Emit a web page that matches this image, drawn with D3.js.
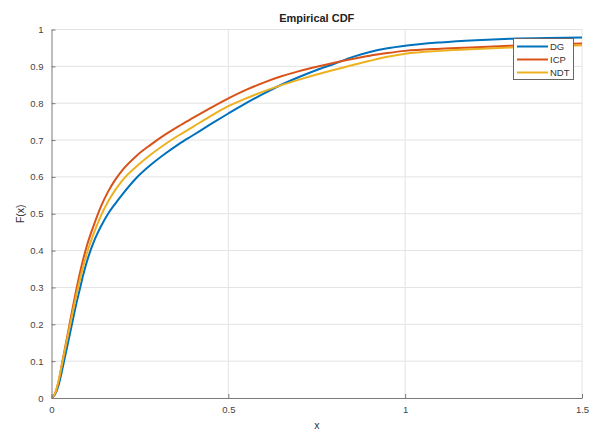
<!DOCTYPE html>
<html><head><meta charset="utf-8">
<script src="https://cdn.jsdelivr.net/npm/d3@7"></script>
<style>
body{margin:0;background:#fff;}
text{font-family:"Liberation Sans",Arial,Helvetica,sans-serif;}
</style></head>
<body><svg id="c" width="595" height="431"></svg>
<script>
const seriesNames = ["DG","ICP","NDT"];
const seriesColors = ["#0072BD","#D95319","#EDB120"];
const xTicks = [0,0.5,1,1.5];
const xTickLabels = ["0","0.5","1","1.5"];
const yTicks = [0,0.1,0.2,0.3,0.4,0.5,0.6,0.7,0.8,0.9,1];
const yTickLabels = ["0","0.1","0.2","0.3","0.4","0.5","0.6","0.7","0.8","0.9","1"];

const dgX = [0,0.01,0.02,0.03,0.04,0.05,0.06,0.07,0.08,0.09,0.1,0.12,0.14,0.16,0.18,0.2,0.24,0.28,0.32,0.36,0.4,0.45,0.5,0.55,0.6,0.65,0.7,0.75,0.8,0.85,0.9,0.95,1.0,1.1,1.2,1.3,1.4,1.5];
const dgF = [0,0.01,0.035,0.075,0.12,0.165,0.21,0.255,0.295,0.335,0.37,0.425,0.466,0.5,0.527,0.552,0.597,0.632,0.662,0.689,0.713,0.743,0.772,0.8,0.826,0.85,0.871,0.89,0.907,0.925,0.939,0.949,0.956,0.965,0.971,0.975,0.977,0.978];

const icpX = [0,0.01,0.02,0.03,0.04,0.05,0.06,0.07,0.08,0.09,0.1,0.12,0.14,0.16,0.18,0.2,0.24,0.28,0.32,0.36,0.4,0.45,0.5,0.55,0.6,0.65,0.7,0.75,0.8,0.85,0.9,0.95,1.0,1.1,1.2,1.3,1.4,1.5];
const icpF = [0,0.012,0.045,0.095,0.145,0.195,0.245,0.293,0.338,0.378,0.413,0.47,0.52,0.56,0.592,0.618,0.657,0.687,0.714,0.738,0.76,0.787,0.813,0.836,0.856,0.873,0.887,0.899,0.91,0.92,0.929,0.936,0.942,0.948,0.952,0.956,0.959,0.962];

const ndtX = [0,0.01,0.02,0.03,0.04,0.05,0.06,0.07,0.08,0.09,0.1,0.12,0.14,0.16,0.18,0.2,0.24,0.28,0.32,0.36,0.4,0.45,0.5,0.55,0.6,0.65,0.7,0.75,0.8,0.85,0.9,0.95,1.0,1.1,1.2,1.3,1.4,1.5];
const ndtF = [0,0.013,0.047,0.093,0.14,0.187,0.233,0.278,0.32,0.358,0.392,0.448,0.495,0.533,0.564,0.59,0.628,0.66,0.688,0.713,0.736,0.765,0.792,0.813,0.832,0.849,0.864,0.878,0.891,0.903,0.915,0.926,0.934,0.942,0.947,0.951,0.954,0.957];

const series = [
  {name:seriesNames[0], color:seriesColors[0], xs:dgX, fs:dgF},
  {name:seriesNames[1], color:seriesColors[1], xs:icpX, fs:icpF},
  {name:seriesNames[2], color:seriesColors[2], xs:ndtX, fs:ndtF}
];

const svg = d3.select("#c");
const L=51.5, R=582, T=29.5, B=398;
const x = d3.scaleLinear().domain([0,1.5]).range([L,R]);
const y = d3.scaleLinear().domain([0,1]).range([B,T]);

// grid
const g = svg.append("g");
g.selectAll(".hg").data(yTicks.slice(1)).enter().append("line")
  .attr("x1",L).attr("x2",R).attr("y1",d=>y(d)).attr("y2",d=>y(d))
  .attr("stroke","#e3e3e3").attr("stroke-width",1);
g.selectAll(".vg").data(xTicks.slice(1)).enter().append("line")
  .attr("x1",d=>x(d)).attr("x2",d=>x(d)).attr("y1",T).attr("y2",B)
  .attr("stroke","#e3e3e3").attr("stroke-width",1);

// curves
const line = d3.line().x(d=>x(d[0])).y(d=>y(d[1])).curve(d3.curveMonotoneX);
const clip = svg.append("clipPath").attr("id","pc").append("rect")
  .attr("x",L).attr("y",T-2).attr("width",R-L).attr("height",B-T+2);
series.forEach(s=>{
  svg.append("path").datum(s.xs.map((v,i)=>[v,s.fs[i]]))
    .attr("d",line).attr("fill","none").attr("stroke",s.color)
    .attr("stroke-width",2).attr("clip-path","url(#pc)");
});

// axes
const xAxis = d3.axisBottom(x).tickValues(xTicks).tickFormat((d,i)=>xTickLabels[i]).tickSizeInner(-4).tickSizeOuter(0).tickPadding(8);
const yAxis = d3.axisLeft(y).tickValues(yTicks).tickFormat((d,i)=>yTickLabels[i]).tickSizeInner(-4).tickSizeOuter(0).tickPadding(8);
const ax = svg.append("g").attr("transform",`translate(0,${B})`).call(xAxis);
const ay = svg.append("g").attr("transform",`translate(${L},0)`).call(yAxis);
[ax,ay].forEach(a=>{
  a.select(".domain").attr("stroke","#7a7a7a");
  a.selectAll(".tick line").attr("stroke","#7a7a7a");
  a.selectAll(".tick text").attr("fill","#444").attr("font-size","9.5px")
    .attr("font-family","'Liberation Sans',Arial,sans-serif");
});

// title & labels
svg.append("text").attr("x",(L+R)/2).attr("y",22).attr("text-anchor","middle")
  .attr("font-weight","bold").attr("font-size","11px").attr("fill","#222").text("Empirical CDF");
svg.append("text").attr("x",(L+R)/2).attr("y",429).attr("text-anchor","middle")
  .attr("font-size","10.5px").attr("fill","#333").text("x");
svg.append("text").attr("transform",`translate(24,${(T+B)/2}) rotate(-90)`).attr("text-anchor","middle")
  .attr("font-size","10.5px").attr("fill","#333").text("F(x)");

// legend
const lg = svg.append("g");
lg.append("rect").attr("x",513.5).attr("y",38.5).attr("width",60).attr("height",41)
  .attr("fill","#fff").attr("stroke","#666").attr("stroke-width",1);
series.forEach((s,i)=>{
  const yy = 46.5 + i*13;
  lg.append("line").attr("x1",517).attr("x2",548).attr("y1",yy).attr("y2",yy)
    .attr("stroke",s.color).attr("stroke-width",2);
  lg.append("text").attr("x",550).attr("y",yy+3.5).attr("font-size","9.5px")
    .attr("fill","#333").text(s.name);
});
</script></body></html>
